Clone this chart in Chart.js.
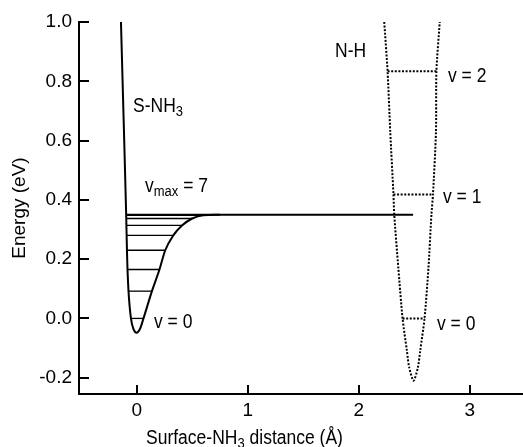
<!DOCTYPE html>
<html><head><meta charset="utf-8">
<script src="https://cdn.jsdelivr.net/npm/chart.js@4.4.0/dist/chart.umd.min.js"></script>
<style>html,body{margin:0;padding:0;background:#fff;}</style>
</head><body>
<canvas id="c" width="523" height="447" style="display:block"></canvas>
<script>
// ---- data ----
const morseX = [-0.142, -0.12, -0.095, -0.088, -0.083, -0.074, -0.052, -0.03, 0.0, 0.03, 0.061, 0.137, 0.205, 0.257, 0.33, 0.41, 0.5, 0.6, 0.75];
const morseY = [1.0, 0.70, 0.35, 0.23, 0.165, 0.092, 0.0, -0.035, -0.048, -0.035, 0.0, 0.092, 0.165, 0.23, 0.28, 0.314, 0.337, 0.348, 0.35];
const plateauX = [-0.095, 2.49];
const plateauY = [0.35, 0.35];
const sLevelE = [0.0, 0.092, 0.165, 0.23, 0.28, 0.314, 0.337, 0.348];
const sLevelLeft = [-0.052, -0.074, -0.083, -0.088, -0.090, -0.092, -0.094, -0.095];
const sLevelRight = [0.061, 0.137, 0.205, 0.257, 0.33, 0.41, 0.50, 0.60];
const nhX = [2.23, 2.26, 2.284, 2.313, 2.32, 2.357, 2.395, 2.434, 2.455, 2.494, 2.533, 2.554, 2.593, 2.628, 2.655, 2.669, 2.696, 2.70, 2.73];
const nhY = [1.0, 0.834, 0.63, 0.418, 0.35, 0.17, 0.0, -0.109, -0.166, -0.21, -0.166, -0.109, 0.0, 0.17, 0.35, 0.418, 0.63, 0.834, 1.0];
const nhLevelE = [0.0, 0.418, 0.834];
const nhLevelLeft = [2.395, 2.313, 2.26];
const nhLevelRight = [2.593, 2.669, 2.70];
const xTicks = [0, 1, 2, 3];
const xTickLabels = ['0', '1', '2', '3'];
const yTicks = [-0.2, 0.0, 0.2, 0.4, 0.6, 0.8, 1.0];
const yTickLabels = ['-0.2', '0.0', '0.2', '0.4', '0.6', '0.8', '1.0'];
const xTitleParts = [['Surface-NH', 0], ['3', 1], [' distance (\u00C5)', 0]];
const yTitle = 'Energy (eV)';
const notes = [
  {parts: [['S-NH', 0], ['3', 1]], x: 133, y: 112},
  {parts: [['v', 0], ['max', 1], [' = 7', 0]], x: 145, y: 192},
  {parts: [['N-H', 0]], x: 335, y: 57},
  {parts: [['v = 2', 0]], x: 448, y: 82},
  {parts: [['v = 1', 0]], x: 443, y: 203},
  {parts: [['v = 0', 0]], x: 437, y: 330},
  {parts: [['v = 0', 0]], x: 154, y: 328}
];
// ---- styling ----
const FONT = '"Liberation Sans", Arial, sans-serif';
const pts = (xs, ys) => xs.map((v, i) => ({x: v, y: ys[i]}));
const datasets = [];
datasets.push({data: pts(morseX, morseY), borderColor: '#000', borderWidth: 2, pointRadius: 0, tension: 0, cubicInterpolationMode: 'monotone', showLine: true, clip: false});
datasets.push({data: pts(plateauX, plateauY), borderColor: '#000', borderWidth: 2, pointRadius: 0, showLine: true});
sLevelE.forEach((e, i) => datasets.push({data: [{x: sLevelLeft[i], y: e}, {x: sLevelRight[i], y: e}], borderColor: '#000', borderWidth: 1.3, pointRadius: 0, showLine: true}));
datasets.push({data: pts(nhX, nhY), borderColor: '#000', borderWidth: 2, borderDash: [2, 1.6], pointRadius: 0, showLine: true, tension: 0.25, clip: false});
nhLevelE.forEach((e, i) => datasets.push({data: [{x: nhLevelLeft[i], y: e}, {x: nhLevelRight[i], y: e}], borderColor: '#000', borderWidth: 2, borderDash: [2, 1.6], pointRadius: 0, showLine: true}));

function drawParts(ctx, parts, x, y, size) {
  ctx.save();
  ctx.translate(x, y);
  ctx.scale(1, 1.12);
  ctx.textBaseline = 'alphabetic';
  ctx.textAlign = 'left';
  let cx = 0;
  parts.forEach(([t, sub]) => {
    const s = sub ? Math.round(size * 0.75) : size;
    ctx.font = s + 'px ' + FONT;
    ctx.fillText(t, cx, sub ? 3.5 : 0);
    cx += ctx.measureText(t).width;
  });
  ctx.restore();
}

const decor = {
  id: 'decor',
  afterDraw(chart) {
    const {ctx, chartArea: a, scales: {x, y}} = chart;
    ctx.save();
    ctx.strokeStyle = '#000'; ctx.lineWidth = 2;
    yTicks.forEach(v => { const py = Math.round(y.getPixelForValue(v)); ctx.beginPath(); ctx.moveTo(a.left, py); ctx.lineTo(a.left + 10, py); ctx.stroke(); });
    xTicks.forEach(v => { const px = Math.round(x.getPixelForValue(v)); ctx.beginPath(); ctx.moveTo(px, a.bottom); ctx.lineTo(px, a.bottom - 9); ctx.stroke(); });
    ctx.fillStyle = '#000';
    notes.forEach(n => drawParts(ctx, n.parts, n.x, n.y, 17.5));
    drawParts(ctx, xTitleParts, 146, 444, 17.5);
    ctx.restore();
  }
};

new Chart(document.getElementById('c'), {
  type: 'scatter',
  data: {datasets},
  options: {
    responsive: false, animation: false,
    layout: {padding: {top: 22, right: 0, left: 0, bottom: 0}},
    plugins: {legend: {display: false}, tooltip: {enabled: false}},
    scales: {
      x: {
        type: 'linear', min: -0.52, max: 3.48,
        afterFit: s => { s.height = 53; },
        afterBuildTicks: s => { s.ticks = xTicks.map(v => ({value: v})); },
        grid: {display: true, drawOnChartArea: false, drawTicks: false},
        border: {display: true, color: '#000', width: 2},
        ticks: {color: '#000', padding: 5, font: {family: FONT, size: 19}, maxRotation: 0,
          callback: (v) => xTickLabels[xTicks.indexOf(v)]}
      },
      y: {
        type: 'linear', min: -0.255, max: 1.0,
        afterFit: s => { s.width = 79; },
        afterBuildTicks: s => { s.ticks = yTicks.map(v => ({value: v})); },
        grid: {display: true, drawOnChartArea: false, drawTicks: false},
        border: {display: true, color: '#000', width: 2},
        ticks: {color: '#000', padding: 7, font: {family: FONT, size: 19},
          callback: (v) => { const i = yTicks.findIndex(t => Math.abs(t - v) < 1e-9); return i >= 0 ? yTickLabels[i] : ''; }},
        title: {display: true, text: yTitle, color: '#000', font: {family: FONT, size: 19}, padding: {top: 8, bottom: 0}}
      }
    }
  },
  plugins: [decor]
});
</script>
</body></html>
